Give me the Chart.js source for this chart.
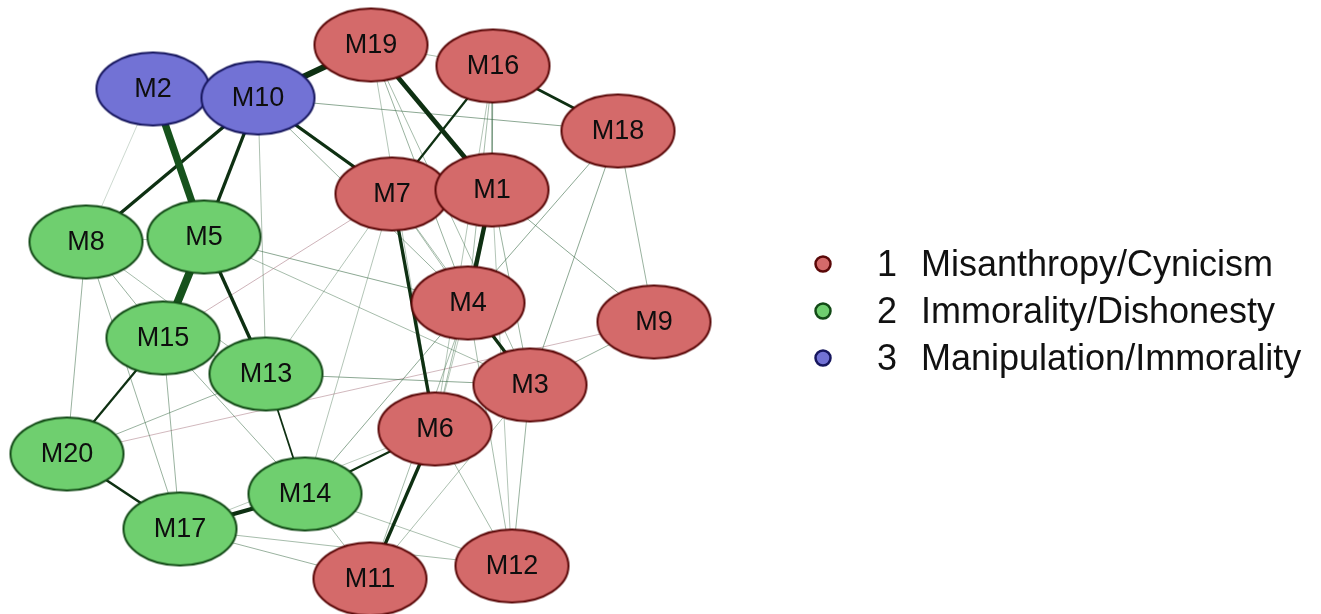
<!DOCTYPE html>
<html>
<head>
<meta charset="utf-8">
<script src="https://cdn.jsdelivr.net/npm/chart.js@4.4.1/dist/chart.umd.min.js"></script>
<style>
  html, body { margin: 0; padding: 0; background: #ffffff; }
  #wrap { width: 1321px; height: 614px; }
</style>
</head>
<body>
<div id="wrap"><canvas id="c" width="1321" height="614"></canvas></div>
<script>
// ---- Nodes (positions, in picture units) ----
const nodeLabels = ['M7','M1','M2','M10','M19','M16','M18','M8','M5','M15','M13','M20','M17','M14','M4','M9','M3','M6','M11','M12'];
const nodeX      = [392, 492, 153, 258, 371, 493, 618,  86, 204, 163, 266,  67, 180, 305, 468, 654, 530, 435, 370, 512];
const nodeY      = [194, 190,  89,  98,  45,  66, 131, 242, 237, 338, 374, 454, 529, 494, 303, 322, 385, 429, 579, 566];
const nodeGroup  = [  1,   1,   3,   3,   1,   1,   1,   2,   2,   2,   2,   2,   2,   2,   1,   1,   1,   1,   1,   1];

// ---- Groups / legend ----
const groupIds   = [1, 2, 3];
const groupNames = ['Misanthropy/Cynicism', 'Immorality/Dishonesty', 'Manipulation/Immorality'];
const groupFill  = ['#d46a6a', '#6fcf6f', '#7272d5'];
const groupLine  = ['#5a0808', '#124a16', '#16165e'];

// ---- Edges (from, to, weight; negative = reddish edge) ----
const edgeFrom   = ['M2','M5','M10','M19','M1','M17','M7','M6','M10','M10','M10','M5','M4','M16','M16','M20','M15','M6','M13',
                    'M10','M10','M10','M19','M19','M19','M19','M16','M16','M16','M18','M18','M18','M1','M1','M1','M1','M7','M7','M7',
                    'M4','M4','M4','M3','M3','M3','M3','M6','M5','M5','M5','M8','M8','M8','M8','M15','M15','M15','M13','M20',
                    'M17','M17','M14','M14','M17','M2','M7','M7','M4'];
const edgeTo     = ['M5','M15','M19','M1','M4','M14','M6','M11','M8','M5','M7','M13','M3','M18','M7','M17','M20','M14','M14',
                    'M18','M4','M13','M16','M4','M3','M6','M1','M4','M6','M4','M3','M9','M9','M3','M6','M12','M4','M3','M15',
                    'M14','M11','M12','M12','M13','M9','M11','M12','M4','M3','M8','M15','M20','M17','M13','M17','M14','M13','M20','M9',
                    'M11','M12','M11','M12','M6','M8','M14','M13','M6'];
const edgeWeight = [0.9, 1.0, 0.75, 0.6, 0.55, 0.55, 0.42, 0.42, 0.42, 0.42, 0.42, 0.42, 0.4, 0.33, 0.28, 0.33, 0.28, 0.28, 0.22,
                    0.12, 0.1, 0.07, 0.07, 0.1, 0.08, 0.06, 0.08, 0.08, 0.06, 0.12, 0.12, 0.1, 0.12, 0.1, 0.08, 0.06, 0.08, 0.08, -0.08,
                    0.12, 0.08, 0.08, 0.1, 0.12, 0.1, 0.07, 0.08, 0.12, 0.08, 0.06, 0.1, 0.1, 0.1, 0.08, 0.1, 0.1, 0.06, 0.1, -0.07,
                    0.1, 0.08, 0.08, 0.07, 0.05, 0.02, 0.06, 0.06, 0.05];

// ---- Build datasets ----
function idx(name) { return nodeLabels.indexOf(name); }

function ellipseCanvas(fill, stroke) {
  const rx = 56.5, ry = 36.5, lw = 2;
  const cv = document.createElement('canvas');
  cv.width = Math.ceil(2 * rx + lw * 2);
  cv.height = Math.ceil(2 * ry + lw * 2);
  const g = cv.getContext('2d');
  g.beginPath();
  g.ellipse(cv.width / 2, cv.height / 2, rx, ry, 0, 0, Math.PI * 2);
  g.fillStyle = fill;
  g.fill();
  g.lineWidth = lw;
  g.strokeStyle = stroke;
  g.stroke();
  return cv;
}
const groupShapes = groupIds.map((g, i) => ellipseCanvas(groupFill[i], groupLine[i]));

const datasets = [];
datasets.push({
  label: 'nodes',
  data: nodeLabels.map((l, i) => ({ x: nodeX[i], y: nodeY[i] })),
  pointStyle: nodeGroup.map(g => groupShapes[groupIds.indexOf(g)]),
  pointRadius: 40,
  showLine: false,
  clip: false,
  order: 0
});

edgeFrom.forEach((f, k) => {
  const a = idx(f), b = idx(edgeTo[k]);
  const w = edgeWeight[k];
  const aw = Math.abs(w);
  let color;
  if (w < 0) color = 'rgba(165,115,125,' + (0.3 + aw * 3).toFixed(2) + ')';
  else if (aw >= 0.9) color = 'rgb(22,82,28)';
  else if (aw >= 0.2) color = 'rgb(14,48,18)';
  else color = 'rgba(70,115,80,' + (0.2 + aw * 3.5).toFixed(2) + ')';
  datasets.push({
    label: 'edge' + k,
    data: [{ x: nodeX[a], y: nodeY[a] }, { x: nodeX[b], y: nodeY[b] }],
    showLine: true,
    borderColor: color,
    borderWidth: Math.max(1, aw * 8),
    pointRadius: 0,
    pointHoverRadius: 0,
    fill: false,
    clip: false,
    order: 1
  });
});

// ---- Plugins: node labels & legend ----
const labelPlugin = {
  id: 'nodeLabels',
  afterDatasetsDraw(chart) {
    const meta = chart.getDatasetMeta(0);
    const ctx = chart.ctx;
    ctx.save();
    ctx.font = '27px "Liberation Sans", Arial, sans-serif';
    ctx.fillStyle = '#0e0e0e';
    ctx.textAlign = 'center';
    ctx.textBaseline = 'middle';
    meta.data.forEach((el, i) => {
      ctx.fillText(nodeLabels[i], el.x, el.y + 1);
    });
    ctx.restore();
  }
};

const legendPlugin = {
  id: 'groupLegend',
  afterDraw(chart) {
    const ctx = chart.ctx;
    const x0 = 823, y0 = 264, dy = 47;
    ctx.save();
    groupIds.forEach((g, i) => {
      const y = y0 + i * dy;
      ctx.beginPath();
      ctx.arc(x0, y, 7.5, 0, Math.PI * 2);
      ctx.fillStyle = groupFill[i];
      ctx.fill();
      ctx.lineWidth = 2.5;
      ctx.strokeStyle = groupLine[i];
      ctx.stroke();
      ctx.fillStyle = '#111111';
      ctx.font = '36px "Liberation Sans", Arial, sans-serif';
      ctx.textBaseline = 'middle';
      ctx.textAlign = 'center';
      ctx.fillText(String(g), 887, y + 2);
      ctx.textAlign = 'left';
      ctx.fillText(groupNames[i], 921, y + 2);
    });
    ctx.restore();
  }
};

new Chart(document.getElementById('c'), {
  type: 'scatter',
  data: { datasets },
  options: {
    responsive: false,
    animation: false,
    layout: { padding: 0, autoPadding: false },
    plugins: { legend: { display: false }, tooltip: { enabled: false } },
    events: [],
    scales: {
      x: { type: 'linear', min: 0, max: 1321, display: false },
      y: { type: 'linear', min: 0, max: 614, reverse: true, display: false }
    }
  },
  plugins: [labelPlugin, legendPlugin]
});
</script>
</body>
</html>
